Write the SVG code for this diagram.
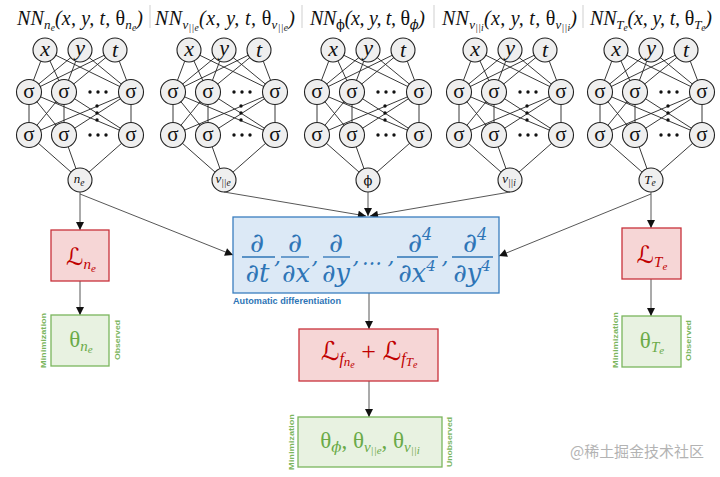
<svg xmlns="http://www.w3.org/2000/svg" xmlns:xlink="http://www.w3.org/1999/xlink" width="720" height="477" viewBox="0 0 720 477">
<style>
.m{font-family:"Liberation Serif","DejaVu Serif",serif;font-style:italic}
.up{font-style:normal}
.ph{font-family:"DejaVu Serif",serif}
.ttl{font-size:20px;fill:#111}
.s1{font-size:13px}
.s2{font-size:9.5px}
.nl{font-size:22px;fill:#111;text-anchor:middle}
.sg{font-family:"Liberation Serif","DejaVu Serif",serif;font-size:21px;fill:#111;text-anchor:middle}
.ol{font-size:13px;fill:#111;text-anchor:middle}
.cir{fill:#efefef;stroke:#222;stroke-width:1.1}
.wire{fill:none;stroke:#222;stroke-width:0.9}
.sep{stroke:#cfcfcf;stroke-width:1}
.con{fill:none;stroke:#444;stroke-width:0.9;marker-end:url(#ah)}
.rbox{fill:#f6d6d6;stroke:#c8323b;stroke-width:1.3}
.bbox{fill:#dce9f6;stroke:#3a7ebf;stroke-width:1.3}
.gbox{fill:#e8f2e1;stroke:#7ab55c;stroke-width:1.3}
.rt{fill:#c00000;font-family:"Liberation Serif","DejaVu Serif","DejaVu Sans",serif;font-style:italic;text-anchor:middle}
.bt{fill:#2e75b6;font-family:"DejaVu Serif",serif;font-style:italic;font-size:27px;text-anchor:middle}
.dn{font-size:26px}
.cm{font-size:22px}
.bar{stroke:#2e75b6;stroke-width:1.3}
.gt{fill:#6aaa48;font-family:"Liberation Serif","DejaVu Serif",serif;font-style:italic;text-anchor:middle}
.side{fill:#7ab55c;font-family:"Liberation Sans","DejaVu Sans",sans-serif;font-weight:bold;font-size:8px;text-anchor:middle}
.dot{fill:#111}
</style>
<defs>
<marker id="ah" viewBox="0 0 10 10" refX="10" refY="5" markerUnits="userSpaceOnUse" markerWidth="9" markerHeight="8" orient="auto">
<path d="M0,0 L10,5 L0,10 z" fill="#111"/>
</marker>
<g id="skel">
<path class="wire" d="M-35 50L-51 92M-35 50L-16 92M-35 50L51 92M0 50L-51 92M0 50L-16 92M0 50L51 92M35 50L-51 92M35 50L-16 92M35 50L51 92M-51 92L-51 135M-51 92L-16 135M-51 92L51 135M-16 92L-51 135M-16 92L-16 135M-16 92L51 135M51 92L-51 135M51 92L-16 135M51 92L51 135M-51 135L0 180M-16 135L0 180M51 135L0 180"/>
<circle class="cir" cx="-35" cy="50" r="12"/>
<circle class="cir" cx="0" cy="50" r="12"/>
<circle class="cir" cx="35" cy="50" r="12"/>
<circle class="cir" cx="-51" cy="92" r="12.5"/>
<circle class="cir" cx="-16" cy="92" r="12.5"/>
<circle class="cir" cx="51" cy="92" r="12.5"/>
<circle class="cir" cx="-51" cy="135" r="12.5"/>
<circle class="cir" cx="-16" cy="135" r="12.5"/>
<circle class="cir" cx="51" cy="135" r="12.5"/>
<circle class="cir" cx="0" cy="180" r="12"/>
<text class="m nl" x="-35" y="56">x</text>
<text class="m nl" x="0" y="55">y</text>
<text class="m nl" x="35" y="57">t</text>
<text class="sg" x="-51" y="98">σ</text>
<text class="sg" x="-16" y="98">σ</text>
<text class="sg" x="51" y="98">σ</text>
<text class="sg" x="-51" y="141">σ</text>
<text class="sg" x="-16" y="141">σ</text>
<text class="sg" x="51" y="141">σ</text>
<circle class="dot" cx="10" cy="92" r="1.7"/><circle class="dot" cx="18" cy="92" r="1.7"/><circle class="dot" cx="26" cy="92" r="1.7"/>
<circle class="dot" cx="10" cy="135" r="1.7"/><circle class="dot" cx="18" cy="135" r="1.7"/><circle class="dot" cx="26" cy="135" r="1.7"/>
<circle class="dot" cx="17" cy="106" r="1.7"/><circle class="dot" cx="17" cy="113" r="1.7"/><circle class="dot" cx="17" cy="120" r="1.7"/>
</g>
</defs>
<rect width="720" height="477" fill="#ffffff"/>

<g id="separators">
<line class="sep" x1="150" y1="5" x2="150" y2="28"/>
<line class="sep" x1="302" y1="5" x2="302" y2="28"/>
<line class="sep" x1="434" y1="5" x2="434" y2="28"/>
<line class="sep" x1="583" y1="5" x2="583" y2="28"/>
</g>

<g id="net-ne">
<text class="m ttl" x="17" y="25" textLength="126" lengthAdjust="spacing">NN<tspan class="s1" dy="4">n</tspan><tspan class="s2" dy="2">e</tspan><tspan dy="-6">(x, y, t, </tspan><tspan class="up">θ</tspan><tspan class="s1" dy="4">n</tspan><tspan class="s2" dy="2">e</tspan><tspan dy="-6">)</tspan></text>
<use xlink:href="#skel" href="#skel" x="80" y="0"/>
<text class="m ol" x="79" y="183">n<tspan class="s2" dy="3">e</tspan></text>
</g>

<g id="net-vpe">
<text class="m ttl" x="155" y="25" textLength="140" lengthAdjust="spacing">NN<tspan class="s1" dy="4">v</tspan><tspan class="s2" dy="2">||e</tspan><tspan dy="-6">(x, y, t, </tspan><tspan class="up">θ</tspan><tspan class="s1" dy="4">v</tspan><tspan class="s2" dy="2">||e</tspan><tspan dy="-6">)</tspan></text>
<use xlink:href="#skel" href="#skel" x="224" y="0"/>
<text class="m ol" x="223" y="183">v<tspan class="s2" dy="3">||e</tspan></text>
</g>

<g id="net-phi">
<text class="m ttl" x="310" y="25" textLength="115" lengthAdjust="spacing">NN<tspan class="s1 up ph" dy="4">ϕ</tspan><tspan dy="-4">(x, y, t, </tspan><tspan class="up">θ</tspan><tspan class="s1 ph" dy="4">ϕ</tspan><tspan dy="-4">)</tspan></text>
<use xlink:href="#skel" href="#skel" x="368" y="0"/>
<text class="ol ph" x="368" y="185" fill="#111">ϕ</text>
</g>

<g id="net-vpi">
<text class="m ttl" x="442" y="25" textLength="135" lengthAdjust="spacing">NN<tspan class="s1" dy="4">v</tspan><tspan class="s2" dy="2">||i</tspan><tspan dy="-6">(x, y, t, </tspan><tspan class="up">θ</tspan><tspan class="s1" dy="4">v</tspan><tspan class="s2" dy="2">||i</tspan><tspan dy="-6">)</tspan></text>
<use xlink:href="#skel" href="#skel" x="510" y="0"/>
<text class="m ol" x="509" y="183">v<tspan class="s2" dy="3">||i</tspan></text>
</g>

<g id="net-te">
<text class="m ttl" x="590" y="25" textLength="122" lengthAdjust="spacing">NN<tspan class="s1" dy="4">T</tspan><tspan class="s2" dy="2">e</tspan><tspan dy="-6">(x, y, t, </tspan><tspan class="up">θ</tspan><tspan class="s1" dy="4">T</tspan><tspan class="s2" dy="2">e</tspan><tspan dy="-6">)</tspan></text>
<use xlink:href="#skel" href="#skel" x="651" y="0"/>
<text class="m ol" x="650" y="184">T<tspan class="s2" dy="2">e</tspan></text>
</g>

<g id="connectors">
<path class="con" d="M80 192L80 230"/>
<path class="con" d="M80 194L233 255"/>
<path class="con" d="M224 192L366 216"/>
<path class="con" d="M368 192L368 216"/>
<path class="con" d="M510 192L370 216"/>
<path class="con" d="M651 192L651 228"/>
<path class="con" d="M651 194L499 256"/>
<path class="con" d="M80 281L80 315"/>
<path class="con" d="M651 279L651 316"/>
<path class="con" d="M369 293L369 329"/>
<path class="con" d="M369 381L369 417"/>
</g>

<g id="autodiff">
<rect class="bbox" x="233" y="217" width="266" height="76"/>
<line class="bar" x1="242" y1="257" x2="275" y2="257"/>
<line class="bar" x1="281" y1="257" x2="309" y2="257"/>
<line class="bar" x1="323" y1="257" x2="350" y2="257"/>
<line class="bar" x1="397" y1="257" x2="438" y2="257"/>
<line class="bar" x1="452" y1="257" x2="493" y2="257"/>
<text class="bt" x="257" y="252">∂</text>
<text class="bt" x="295" y="252">∂</text>
<text class="bt" x="336" y="252">∂</text>
<text class="bt" x="420" y="252">∂<tspan font-size="16" dy="-12">4</tspan></text>
<text class="bt" x="475" y="252">∂<tspan font-size="16" dy="-12">4</tspan></text>
<text class="bt dn" x="257.5" y="282">∂t</text>
<text class="bt dn" x="296" y="282">∂x</text>
<text class="bt dn" x="336" y="282">∂y</text>
<text class="bt dn" x="417" y="282">∂x<tspan font-size="15" dy="-11">4</tspan></text>
<text class="bt dn" x="472" y="282">∂y<tspan font-size="15" dy="-11">4</tspan></text>
<text class="bt cm" x="277.5" y="264">,</text>
<text class="bt cm" x="315" y="264">,</text>
<text class="bt cm" x="356" y="264">,</text>
<text class="bt cm" x="372" y="265" textLength="20" lengthAdjust="spacingAndGlyphs">…</text>
<text class="bt cm" x="391" y="264">,</text>
<text class="bt cm" x="445" y="264">,</text>
<text x="233" y="304" fill="#2e75b6" font-family="Liberation Sans, DejaVu Sans, sans-serif" font-weight="bold" font-size="8.5" textLength="108" lengthAdjust="spacingAndGlyphs">Automatic differentiation</text>
</g>

<g id="loss-ne">
<rect class="rbox" x="51" y="230" width="58" height="51"/>
<text class="rt" x="81" y="265" font-size="24">ℒ<tspan font-size="15" dy="4">n</tspan><tspan font-size="11" dy="3">e</tspan></text>
</g>

<g id="loss-te">
<rect class="rbox" x="622" y="228" width="59" height="51"/>
<text class="rt" x="652" y="263" font-size="24">ℒ<tspan font-size="15" dy="4">T</tspan><tspan font-size="11" dy="3">e</tspan></text>
</g>

<g id="loss-f">
<rect class="rbox" x="299" y="329" width="139" height="52"/>
<text class="rt" x="369" y="360" font-size="26">ℒ<tspan font-size="16" dy="4">f</tspan><tspan font-size="13" dy="2">n</tspan><tspan font-size="10" dy="2">e</tspan><tspan dy="-8" font-style="normal"> + </tspan>ℒ<tspan font-size="16" dy="4">f</tspan><tspan font-size="13" dy="2">T</tspan><tspan font-size="10" dy="2">e</tspan></text>
</g>

<g id="theta-ne">
<rect class="gbox" x="51" y="315" width="58" height="51"/>
<text class="gt" x="81" y="347" font-size="23"><tspan font-style="normal">θ</tspan><tspan font-size="15" dy="4">n</tspan><tspan font-size="11" dy="2">e</tspan></text>
<text class="side" transform="translate(46,340.5) rotate(-90)" textLength="55" lengthAdjust="spacingAndGlyphs">Minimization</text>
<text class="side" transform="translate(120,340) rotate(-90)" textLength="40" lengthAdjust="spacingAndGlyphs">Observed</text>
</g>

<g id="theta-te">
<rect class="gbox" x="622" y="316" width="59" height="51"/>
<text class="gt" x="652" y="348" font-size="23"><tspan font-style="normal">θ</tspan><tspan font-size="15" dy="4">T</tspan><tspan font-size="11" dy="2">e</tspan></text>
<text class="side" transform="translate(618,340) rotate(-90)" textLength="56" lengthAdjust="spacingAndGlyphs">Minimization</text>
<text class="side" transform="translate(691,340.5) rotate(-90)" textLength="41" lengthAdjust="spacingAndGlyphs">Observed</text>
</g>

<g id="theta-unobs">
<rect class="gbox" x="298" y="417" width="144" height="50"/>
<text class="gt" x="370" y="448" font-size="23"><tspan font-style="normal">θ</tspan><tspan class="ph" font-size="15" dy="4">ϕ</tspan><tspan dy="-4" font-style="normal">, θ</tspan><tspan font-size="15" dy="4">v</tspan><tspan font-size="11" dy="2">||e</tspan><tspan dy="-6" font-style="normal">, θ</tspan><tspan font-size="15" dy="4">v</tspan><tspan font-size="11" dy="2">||i</tspan></text>
<text class="side" transform="translate(294,442) rotate(-90)" textLength="56" lengthAdjust="spacingAndGlyphs">Minimization</text>
<text class="side" transform="translate(452,442) rotate(-90)" textLength="50" lengthAdjust="spacingAndGlyphs">Unobserved</text>
</g>

<text x="570" y="457" fill="#b3b3b3" font-family="Noto Sans CJK SC, sans-serif" font-size="15" textLength="134" lengthAdjust="spacingAndGlyphs">@稀土掘金技术社区</text>
</svg>
